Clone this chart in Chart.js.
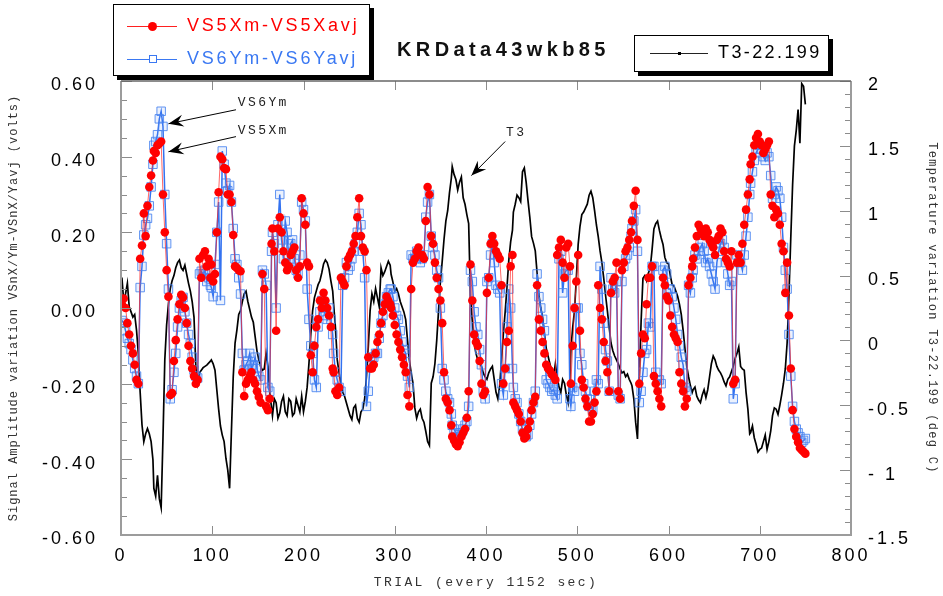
<!DOCTYPE html>
<html>
<head>
<meta charset="utf-8">
<script src="https://cdn.jsdelivr.net/npm/chart.js@4.4.1/dist/chart.umd.min.js"></script>
<style>
html, body { margin: 0; padding: 0; background: #fff; }
#wrap { position: relative; width: 943px; height: 596px; overflow: hidden; }
#chart { position: absolute; left: 0; top: 0; }
.box { position: absolute; border: 1.5px solid #000; background: #fff; box-shadow: 4px 4px 0 #000; }
.seg { position: absolute; height: 0; border-top: 1.2px solid; }
.txt { position: absolute; font: 18px "Liberation Sans", Arial, sans-serif; letter-spacing: 2.8px; white-space: nowrap; }
#title { position: absolute; left: 397px; top: 38px; font: bold 20px "Liberation Sans", Arial, sans-serif; letter-spacing: 4.4px; color: #111; white-space: nowrap; }
</style>
</head>
<body>
<div id="wrap">
  <canvas id="chart" width="943" height="596"></canvas>

  <div class="box" style="left:113px; top:4px; width:255px; height:70px;">
    <div class="seg" style="left:13px; top:21px; width:50px; border-color:#ff2020;"></div>
    <div style="position:absolute; left:34px; top:17px; width:9px; height:9px; border-radius:50%; background:#ff0000;"></div>
    <div class="txt" style="left:73px; top:10px; color:#ff0000;">VS5Xm-VS5Xavj</div>

    <div class="seg" style="left:13px; top:54px; width:50px; border-color:#3a78f2;"></div>
    <div style="position:absolute; left:35px; top:50px; width:6px; height:6px; border:1px solid #3a78f2; background:#fff;"></div>
    <div class="txt" style="left:73px; top:43px; color:#3a78f2;">VS6Ym-VS6Yavj</div>
  </div>

  <div id="title">KRData43wkb85</div>

  <div class="box" style="left:634px; top:35px; width:193px; height:35px;">
    <div class="seg" style="left:15px; top:17px; width:58px; border-color:#222;"></div>
    <div style="position:absolute; left:43px; top:16px; width:3px; height:3px; background:#000;"></div>
    <div class="txt" style="left:83px; top:6px; color:#000; letter-spacing:2.4px;">T3-22.199</div>
  </div>
</div>

<script>
// sampled trials (every ~4th trial) ...
const trials = [
  1, 5, 9, 13, 17, 21, 25, 29, 33, 36,
  40, 44, 48, 52, 56, 60, 64, 68, 72, 76,
  80, 84, 88, 92, 96, 99, 103, 107, 111, 115,
  119, 123, 127, 131, 135, 139, 143, 147, 151, 155,
  159, 163, 166, 170, 174, 178, 182, 186, 190, 194,
  198, 202, 206, 210, 214, 218, 222, 226, 230, 233,
  237, 241, 245, 249, 253, 257, 261, 265, 269, 273,
  277, 281, 285, 289, 293, 296, 300, 304, 308, 312,
  316, 320, 324, 328, 332, 336, 340, 344, 348, 352,
  356, 360, 363, 367, 371, 375, 379, 383, 387, 391,
  395, 399, 403, 407, 411, 415, 419, 423, 427, 430,
  434, 438, 442, 446, 450, 454, 458, 462, 466, 470,
  474, 478, 482, 486, 490, 493, 497, 501, 505, 509,
  513, 517, 521, 525, 529, 533, 537, 541, 545, 549,
  553, 557, 560, 564, 568, 572, 576, 580, 584, 588,
  592, 596, 600, 604, 608, 612, 616, 620, 624, 627,
  631, 635, 639, 643, 647, 651, 655, 659, 663, 667,
  671, 675, 679, 683, 687, 690, 694, 698, 702, 706,
  710, 714, 718, 722, 726, 730, 734, 738, 742, 746,
  750
];
// ... and the trials read in between them
const trialsMid = [
  3, 7, 11, 15, 19, 23, 27, 31, 35, 38,
  42, 46, 50, 54, 58, 62, 66, 70, 74, 78,
  82, 86, 90, 94, 98, 101, 105, 109, 113, 117,
  121, 125, 129, 133, 137, 141, 145, 149, 153, 157,
  161, 165, 168, 172, 176, 180, 184, 188, 192, 196,
  200, 204, 208, 212, 216, 220, 224, 228, 232, 235,
  239, 243, 247, 251, 255, 259, 263, 267, 271, 275,
  279, 283, 287, 291, 295, 298, 302, 306, 310, 314,
  318, 322, 326, 330, 334, 338, 342, 346, 350, 354,
  358, 362, 365, 369, 373, 377, 381, 385, 389, 393,
  397, 401, 405, 409, 413, 417, 421, 425, 429, 432,
  436, 440, 444, 448, 452, 456, 460, 464, 468, 472,
  476, 480, 484, 488, 492, 495, 499, 503, 507, 511,
  515, 519, 523, 527, 531, 535, 539, 543, 547, 551,
  555, 559, 562, 566, 570, 574, 578, 582, 586, 590,
  594, 598, 602, 606, 610, 614, 618, 622, 626, 629,
  633, 637, 641, 645, 649, 653, 657, 661, 665, 669,
  673, 677, 681, 685, 689, 692, 696, 700, 704, 708,
  712, 716, 720, 724, 728, 732, 736, 740, 744, 748
];

// VS5Xm-VS5Xavj (volts) at trials / trialsMid
const vs5x = [
  0.01, 0.0, -0.07, -0.12, -0.19, 0.13, 0.25, 0.27, 0.35, 0.415,
  0.43, 0.44, 0.20, 0.03, -0.225, -0.085, 0.01, 0.028, -0.04, -0.14,
  -0.18, -0.19, 0.08, 0.15, 0.13, 0.115, 0.09, 0.306, 0.393, 0.367,
  0.30, 0.193, 0.106, 0.097, -0.233, -0.19, -0.17, -0.20, -0.235, 0.09,
  -0.26, -0.24, 0.21, -0.06, 0.24, 0.15, 0.10, 0.14, 0.16, 0.08,
  0.29, 0.22, 0.11, -0.17, -0.05, 0.02, 0.04, 0.0, -0.05, -0.17,
  -0.23, 0.08, 0.06, 0.13, 0.15, 0.19, 0.29, 0.16, 0.10, -0.16,
  -0.15, -0.09, -0.04, 0.01, 0.02, 0.0, -0.045, -0.09, -0.13, -0.17,
  -0.26, 0.12, 0.15, 0.14, 0.13, 0.32, 0.19, 0.12, 0.05, -0.04,
  -0.24, -0.27, -0.34, -0.36, -0.355, -0.33, -0.29, 0.115, -0.07, -0.10,
  -0.20, -0.22, 0.08, 0.19, 0.15, 0.13, -0.20, -0.09, 0.11, -0.25,
  -0.27, -0.30, -0.345, -0.32, -0.27, -0.235, -0.03, -0.09, -0.15, -0.165,
  -0.18, 0.14, 0.18, 0.08, 0.17, -0.20, 0.0, 0.14, -0.19, -0.24,
  -0.30, -0.28, -0.22, 0.0, -0.09, -0.17, 0.04, 0.08, -0.22, 0.10,
  0.15, 0.18, 0.23, 0.31, -0.20, -0.07, 0.01, 0.08, -0.18, -0.22,
  -0.26, 0.06, 0.02, -0.05, -0.08, -0.17, -0.22, -0.24, 0.08, 0.13,
  0.19, 0.21, 0.19, 0.20, 0.17, 0.14, 0.19, 0.20, 0.13, 0.11,
  -0.20, 0.12, 0.12, 0.22, 0.30, 0.38, 0.43, 0.46, 0.43, 0.42,
  0.44, 0.27, 0.26, 0.22, 0.15, 0.12, -0.16, -0.32, -0.355, -0.375,
  -0.385
];
const vs5xMid = [
  0.025, -0.04, -0.10, -0.15, -0.20, 0.165, 0.19, 0.32, 0.39, 0.41,
  0.435, 0.30, 0.10, -0.23, -0.14, -0.03, 0.035, 0.0, -0.10, -0.16,
  -0.20, 0.13, 0.14, 0.11, 0.08, 0.07, 0.20, 0.40, 0.37, 0.30,
  0.28, 0.11, 0.10, -0.17, -0.20, -0.18, -0.19, -0.22, -0.25, 0.05,
  -0.27, 0.17, 0.15, 0.21, 0.20, 0.12, 0.11, 0.15, 0.10, 0.11,
  0.25, 0.12, -0.125, -0.10, -0.03, 0.0, 0.02, -0.02, -0.16, -0.22,
  -0.21, 0.07, 0.11, 0.14, 0.17, 0.24, 0.19, 0.15, -0.13, -0.16,
  -0.12, -0.07, -0.01, 0.03, 0.01, -0.02, -0.07, -0.11, -0.15, -0.23,
  0.05, 0.13, 0.16, 0.14, 0.23, 0.30, 0.17, 0.08, 0.02, -0.17,
  -0.25, -0.31, -0.35, -0.365, -0.34, -0.32, -0.22, 0.02, -0.09, -0.14,
  -0.23, 0.04, 0.17, 0.17, 0.14, 0.06, -0.16, -0.06, 0.14, -0.26,
  -0.28, -0.33, -0.34, -0.30, -0.25, 0.06, -0.06, -0.12, -0.16, -0.175,
  -0.19, 0.16, 0.12, 0.16, 0.11, -0.10, 0.07, -0.06, -0.21, -0.26,
  -0.30, -0.25, 0.06, -0.03, -0.14, -0.22, 0.07, 0.12, -0.24, 0.12,
  0.16, 0.20, 0.27, 0.18, -0.12, -0.08, 0.08, 0.11, -0.20, -0.24,
  0.08, 0.03, -0.02, -0.07, -0.09, -0.20, -0.26, 0.06, 0.11, 0.16,
  0.22, 0.20, 0.21, 0.18, 0.16, 0.18, 0.21, 0.15, 0.12, 0.15,
  -0.19, 0.14, 0.17, 0.26, 0.34, 0.40, 0.45, 0.44, 0.41, 0.43,
  0.30, 0.24, 0.25, 0.17, 0.04, -0.02, -0.27, -0.34, -0.37, -0.38
];

// VS6Ym-VS6Yavj (volts) at trials / trialsMid
const vs6y = [
  -0.033, -0.06, -0.094, -0.137, -0.18, 0.054, 0.193, 0.237, 0.32, 0.43,
  0.458, 0.52, 0.30, 0.05, -0.216, -0.12, 0.0, 0.028, -0.04, -0.094,
  -0.164, -0.185, 0.097, 0.10, 0.08, 0.054, 0.115, 0.28, 0.415, 0.33,
  0.324, 0.21, 0.115, 0.037, -0.164, -0.14, -0.16, -0.13, -0.18, 0.10,
  0.06, -0.22, 0.20, 0.0, 0.30, 0.13, 0.20, 0.17, 0.13, 0.09,
  0.28, 0.23, -0.03, -0.12, -0.21, -0.01, 0.0, -0.03, -0.03, -0.12,
  -0.19, -0.22, 0.08, 0.10, 0.13, 0.17, 0.25, 0.15, -0.26, -0.15,
  -0.13, -0.12, -0.04, 0.01, 0.04, 0.05, 0.0, -0.03, -0.09, -0.12,
  -0.21, 0.13, 0.15, 0.12, 0.14, 0.28, 0.19, 0.14, 0.08, -0.16,
  -0.22, -0.25, -0.31, -0.33, -0.335, -0.32, -0.30, 0.10, -0.01, -0.07,
  -0.15, -0.24, 0.08, 0.17, 0.06, 0.04, -0.23, -0.05, 0.0, -0.21,
  -0.25, -0.30, -0.33, -0.335, -0.28, -0.22, 0.03, -0.03, -0.19, -0.21,
  -0.215, -0.24, 0.15, 0.09, 0.10, -0.26, -0.22, 0.0, -0.15, -0.22,
  -0.26, -0.27, -0.19, 0.11, -0.04, -0.14, 0.08, 0.04, -0.23, 0.07,
  0.13, 0.16, 0.21, 0.26, -0.25, -0.17, -0.11, -0.05, 0.11, -0.19,
  -0.20, 0.11, 0.05, 0.03, -0.03, -0.10, -0.15, -0.22, 0.04, 0.10,
  0.13, 0.16, 0.15, 0.13, 0.09, 0.05, 0.15, 0.18, 0.12, 0.06,
  -0.24, 0.14, 0.12, 0.14, 0.24, 0.33, 0.39, 0.42, 0.42, 0.39,
  0.40, 0.29, 0.32, 0.29, 0.16, 0.05, -0.18, -0.30, -0.33, -0.355,
  -0.345
];
const vs6yMid = [
  -0.04, -0.08, -0.11, -0.16, -0.20, 0.11, 0.22, 0.27, 0.38, 0.44,
  0.50, 0.48, 0.17, -0.24, -0.17, -0.05, 0.02, -0.01, -0.07, -0.13,
  -0.18, 0.09, 0.09, 0.07, 0.06, 0.03, 0.20, 0.02, 0.38, 0.31,
  0.28, 0.13, 0.08, -0.12, -0.15, -0.12, -0.15, -0.16, -0.19, 0.09,
  -0.21, 0.15, 0.17, 0.22, 0.18, 0.23, 0.12, 0.18, 0.10, 0.14,
  0.26, 0.05, -0.10, -0.19, -0.05, 0.02, -0.02, 0.0, -0.07, -0.17,
  -0.21, 0.06, 0.12, 0.11, 0.15, 0.20, 0.22, 0.08, -0.22, -0.13,
  -0.12, -0.08, -0.02, 0.03, 0.05, 0.03, -0.02, -0.06, -0.11, -0.18,
  0.14, 0.13, 0.14, 0.13, 0.24, 0.30, 0.16, 0.10, 0.0, -0.19,
  -0.24, -0.28, -0.32, -0.34, -0.33, -0.31, -0.26, 0.07, -0.05, -0.11,
  -0.22, 0.07, 0.14, 0.12, 0.05, -0.20, -0.16, 0.05, -0.16, -0.24,
  -0.28, -0.32, -0.34, -0.31, -0.25, 0.09, 0.0, -0.06, -0.20, -0.22,
  -0.23, 0.13, 0.04, 0.10, -0.24, -0.21, 0.0, -0.12, -0.20, -0.24,
  -0.26, -0.22, -0.20, 0.05, -0.11, -0.22, 0.05, 0.07, -0.24, 0.11,
  0.14, 0.19, 0.23, 0.15, -0.22, -0.12, -0.04, 0.11, -0.17, -0.19,
  0.10, 0.09, 0.05, 0.0, -0.07, -0.13, -0.21, 0.06, 0.08, 0.14,
  0.15, 0.17, 0.12, 0.11, 0.07, 0.12, 0.17, 0.16, 0.09, 0.07,
  -0.20, 0.12, 0.10, 0.19, 0.30, 0.36, 0.41, 0.43, 0.40, 0.41,
  0.35, 0.30, 0.31, 0.24, 0.10, -0.07, -0.26, -0.32, -0.34, -0.35
];

// T3-22.199 (deg C) at trials / trialsMid
const t3 = [
  0.485, 0.36, 0.26, 0.18, 0.08, -0.40, -0.78, -0.68, -0.78, -1.14,
  -1.04, -1.29, -0.15, 0.28, 0.46, 0.56, 0.62, 0.54, 0.51, 0.38,
  0.18, -0.33, -0.23, -0.20, -0.175, -0.15, -0.23, -0.53, -0.73, -0.91,
  -1.14, -0.28, 0.08, 0.23, 0.36, 0.30, 0.18, 0.03, -0.15, -0.23,
  -0.10, -0.40, -0.58, -0.48, -0.56, -0.43, -0.58, -0.47, -0.56, -0.50,
  -0.43, -0.47, -0.175, 0.23, 0.38, 0.46, 0.59, 0.60, 0.46, 0.28,
  -0.15, -0.33, -0.43, -0.53, -0.61, -0.50, -0.63, -0.53, -0.28, 0.23,
  0.30, 0.33, 0.56, 0.53, 0.61, 0.51, 0.38, 0.36, 0.26, 0.16,
  -0.15, -0.33, -0.60, -0.53, -0.63, -0.78, -0.33, -0.18, 0.23, 0.61,
  0.92, 1.14, 1.34, 1.24, 1.22, 1.10, 0.97, 0.33, -0.02, -0.15,
  -0.20, -0.28, -0.25, -0.20, -0.40, -0.35, 0.05, 0.41, 0.76, 0.99,
  1.12, 1.07, 1.33, 1.08, 0.80, 0.69, 0.35, 0.18, -0.06, -0.18,
  -0.28, -0.28, -0.40, -0.33, -0.48, -0.07, 0.23, 0.74, 0.97, 1.02,
  1.12, 1.10, 0.89, 0.69, 0.48, 0.23, -0.02, -0.12, -0.18, -0.25,
  -0.28, -0.30, -0.35, -0.63, -0.28, 0.48, 0.46, 0.56, 0.86, 0.92,
  0.79, 0.64, 0.59, 0.43, 0.38, 0.28, 0.08, -0.20, -0.35, -0.38,
  -0.43, -0.48, -0.38, -0.38, -0.18, -0.15, -0.23, -0.28, -0.35, -0.28,
  -0.20, -0.10, -0.20, -0.23, -0.53, -0.71, -0.75, -0.86, -0.83, -0.73,
  -0.78, -0.58, -0.53, -0.50, -0.33, -0.02, 0.79, 1.50, 1.78, 1.98,
  1.82
];
const t3Mid = [
  0.30, 0.44, 0.22, 0.20, -0.10, -0.65, -0.72, -0.72, -0.92, -1.20,
  -1.22, -0.75, 0.12, 0.40, 0.50, 0.60, 0.56, 0.58, 0.44, 0.30,
  -0.20, -0.25, -0.21, -0.19, -0.16, -0.18, -0.38, -0.66, -0.78, -1.00,
  -0.70, -0.02, 0.20, 0.30, 0.38, 0.24, 0.14, -0.08, -0.20, -0.22,
  -0.20, -0.52, -0.45, -0.60, -0.47, -0.55, -0.45, -0.58, -0.45, -0.55,
  -0.55, -0.36, 0.05, 0.33, 0.43, 0.52, 0.62, 0.55, 0.38, 0.10,
  -0.25, -0.40, -0.48, -0.58, -0.52, -0.60, -0.55, -0.45, -0.05, 0.36,
  0.40, 0.26, 0.50, 0.57, 0.58, 0.45, 0.40, 0.30, 0.22, 0.0,
  -0.25, -0.52, -0.55, -0.60, -0.70, -0.81, -0.28, 0.0, 0.45, 0.78,
  1.00, 1.25, 1.28, 1.16, 1.26, 1.05, 0.90, 0.15, -0.10, -0.17,
  -0.25, -0.30, -0.22, -0.30, -0.45, -0.15, 0.22, 0.62, 0.85, 1.05,
  1.10, 1.30, 1.22, 0.95, 0.75, 0.52, 0.25, 0.05, -0.12, -0.25,
  -0.18, -0.36, -0.30, -0.42, -0.30, 0.10, 0.48, 0.88, 0.99, 1.05,
  1.15, 1.00, 0.80, 0.60, 0.35, 0.10, -0.08, -0.15, -0.22, -0.24,
  -0.26, -0.33, -0.45, -0.76, 0.15, 0.50, 0.52, 0.70, 0.90, 0.85,
  0.74, 0.60, 0.50, 0.42, 0.34, 0.20, -0.06, -0.28, -0.40, -0.36,
  -0.46, -0.42, -0.44, -0.28, -0.12, -0.20, -0.25, -0.32, -0.30, -0.24,
  -0.14, -0.05, -0.22, -0.40, -0.72, -0.66, -0.80, -0.84, -0.78, -0.84,
  -0.70, -0.52, -0.57, -0.42, -0.22, 0.35, 1.20, 1.62, 1.52, 1.96
];

// callout labels, placed in data units (trial, volts)
const callouts = [
  { text: 'VS6Ym', at: [128, 0.542], from: [126, 0.524], to: [52, 0.487] },
  { text: 'VS5Xm', at: [128, 0.468], from: [126, 0.453], to: [52, 0.413] },
  { text: 'T3',    at: [422, 0.463], from: [421, 0.440], to: [384, 0.350] }
];

const tickFont = { family: '"Liberation Sans", Arial, sans-serif', size: 18 };
const monoFont = '"Liberation Mono", "Courier New", monospace';

// merge the two sets of readings in trial order
function series(values, midValues) {
  const out = [];
  trials.forEach((t, i) => {
    out.push({ x: t, y: values[i] });
    if (i < trialsMid.length) out.push({ x: trialsMid[i], y: midValues[i] });
  });
  return out;
}

// the original plotting program spreads its letters; do the same per scale
function spaced(titleSpacing, labelSpacing) {
  return function (scale) {
    if (scale._spaced) return;
    scale._spaced = true;
    const drawTitle = scale.drawTitle.bind(scale);
    const drawLabels = scale.drawLabels.bind(scale);
    scale.drawTitle = function () {
      this.ctx.save();
      this.ctx.letterSpacing = titleSpacing;
      drawTitle();
      this.ctx.restore();
    };
    scale.drawLabels = function (area) {
      this.ctx.save();
      this.ctx.letterSpacing = labelSpacing;
      drawLabels(area);
      this.ctx.restore();
    };
  };
}

// frame and inward tick marks
const frame = {
  id: 'frame',
  afterDraw(chart) {
    const { ctx, chartArea: a, scales } = chart;
    ctx.save();
    ctx.strokeStyle = '#8c8c8c';
    ctx.lineWidth = 1;
    ctx.beginPath();
    for (let k = -12; k <= 12; k++) {
      const y = Math.round(scales.y.getPixelForValue(k * 0.05)) + 0.5;
      const len = k % 4 === 0 ? 11 : 6;
      ctx.moveTo(a.left, y);
      ctx.lineTo(a.left + len, y);
    }
    for (let k = -15; k <= 20; k++) {
      const y = Math.round(scales.y2.getPixelForValue(k * 0.1)) + 0.5;
      const len = k % 5 === 0 ? 11 : 6;
      ctx.moveTo(a.right, y);
      ctx.lineTo(a.right - len, y);
    }
    for (let k = 0; k <= 8; k++) {
      const x = Math.round(scales.x.getPixelForValue(k * 100)) + 0.5;
      ctx.moveTo(x, a.bottom);
      ctx.lineTo(x, a.bottom - 9);
      ctx.moveTo(x, a.top);
      ctx.lineTo(x, a.top + 9);
    }
    ctx.stroke();

    ctx.lineWidth = 2;
    ctx.strokeStyle = '#9c9c9c';
    ctx.beginPath();
    ctx.moveTo(a.left, a.top);
    ctx.lineTo(a.left, a.bottom);
    ctx.lineTo(a.right, a.bottom);
    ctx.lineTo(a.right, a.top);
    ctx.stroke();
    ctx.lineWidth = 1.5;
    ctx.strokeStyle = '#666';
    ctx.beginPath();
    ctx.moveTo(a.left, a.top);
    ctx.lineTo(a.right, a.top);
    ctx.stroke();
    ctx.restore();
  }
};

// callout text with arrows
const arrows = {
  id: 'arrows',
  afterDraw(chart) {
    const { ctx, scales } = chart;
    const px = p => [scales.x.getPixelForValue(p[0]), scales.y.getPixelForValue(p[1])];
    ctx.save();
    ctx.letterSpacing = '2.4px';
    ctx.strokeStyle = '#000';
    ctx.lineWidth = 1;
    ctx.font = '13px ' + monoFont;
    ctx.textBaseline = 'middle';
    callouts.forEach(c => {
      const [tx, ty] = px(c.at);
      ctx.fillStyle = '#222';
      ctx.fillText(c.text, tx, ty);
      const [x0, y0] = px(c.from);
      const [x1, y1] = px(c.to);
      ctx.beginPath();
      ctx.moveTo(x0, y0);
      ctx.lineTo(x1, y1);
      ctx.stroke();
      const ang = Math.atan2(y1 - y0, x1 - x0);
      const L = 15, W = 6;
      const bx = x1 - L * Math.cos(ang), by = y1 - L * Math.sin(ang);
      const nx = x1 - 0.65 * L * Math.cos(ang), ny = y1 - 0.65 * L * Math.sin(ang);
      ctx.beginPath();
      ctx.moveTo(x1, y1);
      ctx.lineTo(bx + W * Math.sin(ang), by - W * Math.cos(ang));
      ctx.lineTo(nx, ny);
      ctx.lineTo(bx - W * Math.sin(ang), by + W * Math.cos(ang));
      ctx.closePath();
      ctx.fillStyle = '#000';
      ctx.fill();
    });
    ctx.restore();
  }
};

const ctx = document.getElementById('chart').getContext('2d');
new Chart(ctx, {
  type: 'line',
  data: {
    datasets: [
      {
        label: 'VS5Xm-VS5Xavj',
        data: series(vs5x, vs5xMid),
        yAxisID: 'y',
        borderColor: 'rgba(255, 40, 40, 0.7)',
        borderWidth: 1,
        pointStyle: 'circle',
        pointRadius: 4.3,
        pointBackgroundColor: '#ff0000',
        pointBorderColor: '#ff0000',
        pointBorderWidth: 0,
        tension: 0,
        order: 1
      },
      {
        label: 'VS6Ym-VS6Yavj',
        data: series(vs6y, vs6yMid),
        yAxisID: 'y',
        borderColor: '#3372f0',
        borderWidth: 1.5,
        pointStyle: 'rect',
        pointRadius: 6,
        pointBackgroundColor: 'rgba(90, 140, 240, 0.12)',
        pointBorderColor: 'rgba(70, 130, 240, 0.85)',
        pointBorderWidth: 1,
        tension: 0,
        order: 2
      },
      {
        label: 'T3-22.199',
        data: series(t3, t3Mid),
        yAxisID: 'y2',
        borderColor: '#000',
        borderWidth: 1.7,
        pointRadius: 0,
        tension: 0,
        order: 3
      }
    ]
  },
  options: {
    responsive: false,
    animation: false,
    events: [],
    layout: { padding: { top: 81, left: 0, right: 0, bottom: 0 } },
    plugins: {
      legend: { display: false },
      tooltip: { enabled: false },
      title: { display: false }
    },
    scales: {
      x: {
        type: 'linear',
        min: 0,
        max: 800,
        grid: { display: false, drawTicks: false },
        border: { display: false },
        ticks: { stepSize: 100, color: '#000', font: tickFont, padding: 10, maxRotation: 0 },
        title: {
          display: true,
          text: 'TRIAL (every 1152 sec)',
          color: '#333',
          font: { family: monoFont, size: 13 },
          padding: { top: 0, bottom: 6 }
        },
        afterFit: s => { s.height = 61; },
        afterUpdate: spaced('2.4px', '3px')
      },
      y: {
        position: 'left',
        min: -0.6,
        max: 0.6,
        grid: { display: false, drawTicks: false },
        border: { display: false },
        ticks: {
          stepSize: 0.2,
          color: '#000',
          font: tickFont,
          padding: 23,
          labelOffset: 4.5,
          callback: v => (Math.abs(v) < 1e-9 ? 0 : v).toFixed(2)
        },
        title: {
          display: true,
          text: 'Signal Amplitude variation VSnX/Ym-VSnX/Yavj (volts)',
          color: '#333',
          font: { family: monoFont, size: 12 },
          padding: { top: 7, bottom: 0 }
        },
        afterFit: s => { s.width = 121; },
        afterUpdate: spaced('1px', '3px')
      },
      y2: {
        position: 'right',
        min: -1.5,
        max: 2,
        grid: { display: false, drawTicks: false },
        border: { display: false },
        ticks: {
          stepSize: 0.5,
          color: '#000',
          font: tickFont,
          padding: 17,
          labelOffset: 4.5,
          callback: v => {
            const r = Math.round(v * 10) / 10;
            return r === -1 ? '- 1' : String(r);
          }
        },
        title: {
          display: true,
          text: 'Temperature variation T3-22.199 (deg C)',
          color: '#333',
          font: { family: monoFont, size: 12 },
          padding: { top: 4, bottom: 0 }
        },
        afterFit: s => { s.width = 92; },
        afterUpdate: spaced('1.3px', '3px')
      }
    }
  },
  plugins: [frame, arrows]
});
</script>
</body>
</html>
